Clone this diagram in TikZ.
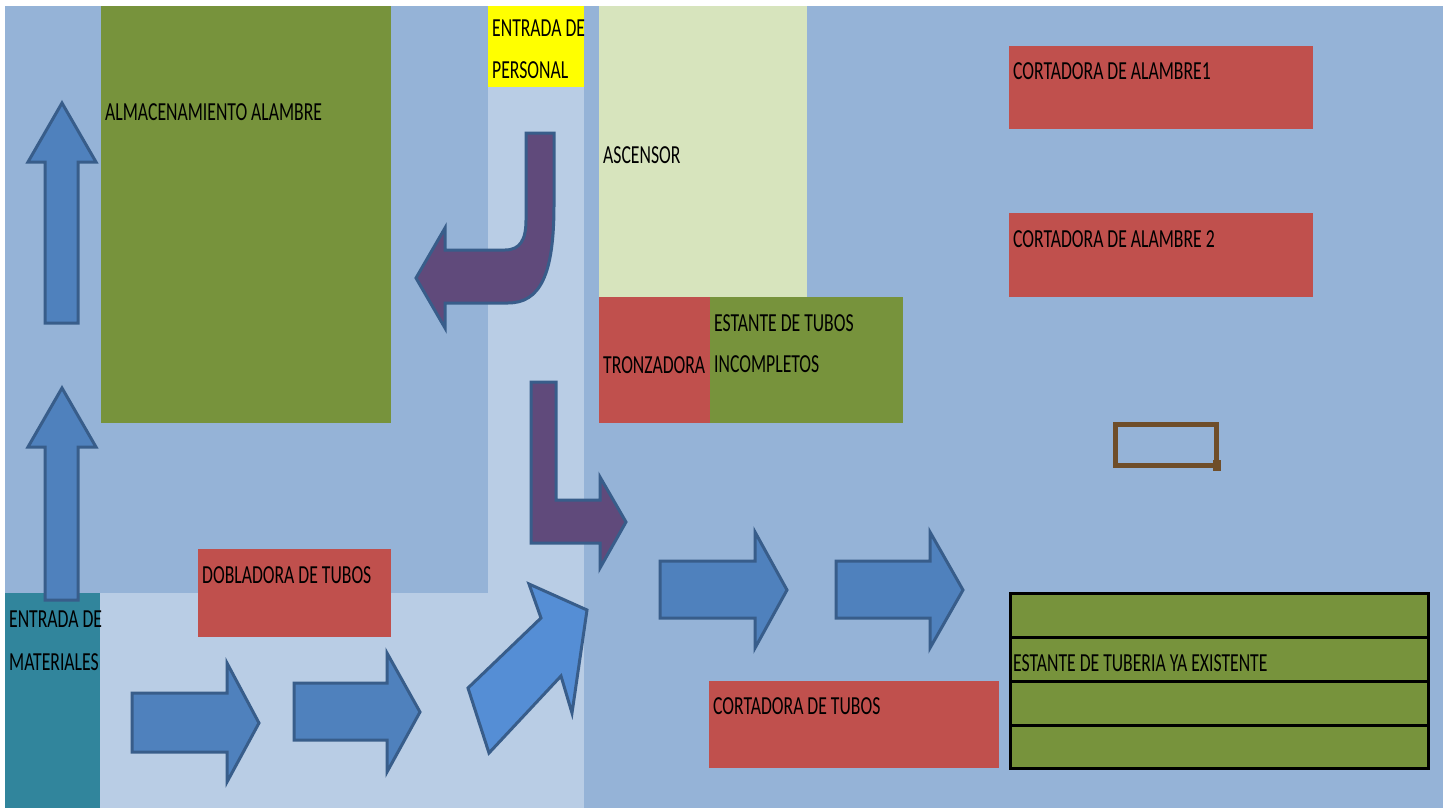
\documentclass[tikz,border=0pt]{standalone}
\usepackage{fontspec}
\setmainfont{Carlito}
\definecolor{bgmid}{HTML}{95B3D7}
\definecolor{bglight}{HTML}{B9CDE5}
\definecolor{grn}{HTML}{77933C}
\definecolor{rd}{HTML}{C0504D}
\definecolor{ylw}{HTML}{FFFF00}
\definecolor{lgrn}{HTML}{D7E4BD}
\definecolor{tealc}{HTML}{31859C}
\definecolor{arw}{HTML}{4F81BD}
\definecolor{arwb}{HTML}{385D8A}
\definecolor{arwl}{HTML}{558ED5}
\definecolor{purp}{HTML}{604A7B}
\definecolor{brwn}{HTML}{6F4E2A}
\newcommand\lab[1]{\scalebox{0.68}[1]{#1}}
\begin{document}
\begin{tikzpicture}[x=1pt,y=-1pt,
  lbl/.style={anchor=base west, inner sep=0pt, text=black, font=\fontsize{26}{30}\selectfont},
  blockarrow/.style={fill=arw, draw=arwb, line width=3pt, line join=miter},
  purparrow/.style={fill=purp, draw=arwb, line width=3pt, line join=miter},
]
\useasboundingbox (0,0) rectangle (1449,808);
\fill[white] (0,0) rectangle (1449,808);
% background regions
\fill[bgmid] (5,6) rectangle (1443,808);
\fill[bglight] (488,87) rectangle (584,808);
\fill[bglight] (100,593) rectangle (488,808);
\fill[tealc] (5,593) rectangle (100,808);
% boxes
\fill[grn] (101,6) rectangle (391,423);
\fill[ylw] (488,6) rectangle (584,87);
\fill[lgrn] (599,6) rectangle (807,297);
\fill[rd] (599,297) rectangle (710,423);
\fill[grn] (710,297) rectangle (903,423);
\fill[rd] (1009,46) rectangle (1313,129);
\fill[rd] (1009,213) rectangle (1313,297);
\fill[rd] (198,549) rectangle (391,637);
\fill[rd] (709,681) rectangle (999,768);
% shelf of existing tubes
\fill[grn] (1009,592) rectangle (1430,770);
\draw[black, line width=3pt] (1010.5,593.5) rectangle (1428.5,768.5);
\draw[black, line width=3pt] (1010,637) -- (1429,637);
\draw[black, line width=3pt] (1010,681) -- (1429,681);
\draw[black, line width=3pt] (1010,725) -- (1429,725);
% brown outline
\draw[brwn, line width=5pt] (1115.5,424.5) rectangle (1216.5,465.5);
\fill[brwn] (1213,460) rectangle (1221,471);
% arrows
\draw[blockarrow] (45,323) -- (45,162) -- (28,162) -- (62,103) -- (96,162) -- (78,162) -- (78,323) -- cycle;
\draw[blockarrow] (45,600) -- (45,447) -- (28,447) -- (62,388) -- (96,447) -- (78,447) -- (78,600) -- cycle;
\draw[blockarrow] (132,693) -- (227,693) -- (227,663) -- (259,723) -- (227,782) -- (227,752) -- (132,752) -- cycle;
\draw[blockarrow] (294,683) -- (387,683) -- (387,653) -- (420,712) -- (387,772) -- (387,740) -- (294,740) -- cycle;
\draw[blockarrow] (660,561) -- (755,561) -- (755,532) -- (787,590) -- (755,648) -- (755,618) -- (660,618) -- cycle;
\draw[blockarrow] (836,561) -- (930,561) -- (930,532) -- (963,590) -- (930,648) -- (930,618) -- (836,618) -- cycle;
\draw[blockarrow, fill=arwl] (468,688) -- (541,618) -- (529,584) -- (587,610) -- (572,713) -- (561,676) -- (489,753) -- cycle;
\draw[purparrow] (531,382) -- (556,382) -- (556,500) -- (600,500) -- (600,477) -- (626,522) -- (600,568) -- (600,543) -- (531,543) -- cycle;
\draw[purparrow] (526,133) -- (554,133) -- (554,205) .. controls (554,275) and (540,303) .. (508,303) -- (445,303) -- (445,328) -- (416,278) -- (445,228) -- (445,250) -- (505,250) .. controls (520,250) and (526,240) .. (526,220) -- cycle;
% labels
\node[lbl] (talm) at (105,120) {\lab{ALMACENAMIENTO ALAMBRE}};
\node[lbl] (tper1) at (492,37) {\lab{ENTRADA DE}};
\node[lbl] (tper2) at (492,79) {\lab{PERSONAL}};
\node[lbl] (tasc) at (603,163) {\lab{ASCENSOR}};
\node[lbl] (tinc1) at (714,331) {\lab{ESTANTE DE TUBOS}};
\node[lbl] (tinc2) at (714,372) {\lab{INCOMPLETOS}};
\node[lbl] (ttro) at (603,373) {\lab{TRONZADORA}};
\node[lbl] (tca1) at (1013,80) {\lab{CORTADORA DE ALAMBRE1}};
\node[lbl] (tca2) at (1013,247) {\lab{CORTADORA DE ALAMBRE 2}};
\node[lbl] (tdob) at (202,583) {\lab{DOBLADORA DE TUBOS}};
\node[lbl] (tmat1) at (9,627) {\lab{ENTRADA DE}};
\node[lbl] (tmat2) at (9,670) {\lab{MATERIALES}};
\node[lbl] (tctu) at (713,714) {\lab{CORTADORA DE TUBOS}};
\node[lbl] (test) at (1013,671) {\lab{ESTANTE DE TUBERIA YA EXISTENTE}};
\end{tikzpicture}
\end{document}
